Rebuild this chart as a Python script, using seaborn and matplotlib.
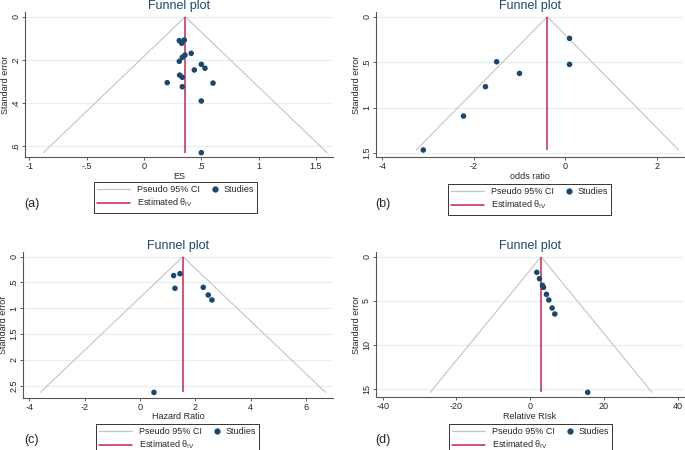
import numpy as np
import pandas as pd
import matplotlib
matplotlib.use("Agg")
import matplotlib.pyplot as plt
from matplotlib.lines import Line2D
from matplotlib.legend_handler import HandlerLine2D
import seaborn as sns

# (a) effect size
a_es = [0.308, 0.329, 0.351, 0.412, 0.357, 0.334, 0.308, 0.500, 0.532,
        0.439, 0.311, 0.334, 0.203, 0.602, 0.334, 0.500, 0.500]
a_se = [0.111, 0.123, 0.108, 0.170, 0.178, 0.188, 0.207, 0.221, 0.239,
        0.247, 0.271, 0.281, 0.306, 0.308, 0.325, 0.391, 0.631]
a_theta = 0.36

# (b) odds ratio
b_or = [0.095, -1.50, 0.095, -1.00, -1.745, -2.225, -3.105]
b_se = [0.238, 0.495, 0.524, 0.623, 0.769, 1.092, 1.465]
b_theta = -0.39

# (c) hazard ratio
c_hr = [1.446, 1.217, 1.265, 2.289, 2.470, 2.602, 0.506]
c_se = [0.330, 0.368, 0.614, 0.595, 0.743, 0.840, 2.631]
c_theta = 1.554

# (d) relative risk
d_rr = [1.80, 2.52, 3.33, 3.60, 4.41, 5.05, 5.95, 6.67, 15.59]
d_se = [1.77, 2.49, 3.24, 3.47, 4.26, 4.90, 5.80, 6.48, 15.34]
d_theta = 2.97

NAVY = "#1a476f"
RED = "#c8274a"
GREY = "#c4c4c4"
GRID = "#e6f0f2"

sns.set_style("ticks")
plt.rcParams["font.family"] = ["Liberation Sans", "DejaVu Sans"]
plt.rcParams["mathtext.fontset"] = "custom"
plt.rcParams["mathtext.rm"] = "Liberation Sans"

W, H = 685, 450
fig = plt.figure(figsize=(6.85, 4.5), dpi=100)


class MarkerRight(HandlerLine2D):
    # put the study marker at the right end of its handle, like Stata does
    def get_xdata(self, legend, xdescent, ydescent, width, height, fontsize):
        x = -xdescent + width - 1
        return [x, x], [x]


def fmt(v):
    s = f"{v:g}"
    if s.startswith("0.") and s != "0":
        s = s[1:]
    if s.startswith("-0."):
        s = "-" + s[2:]
    return s


def funnel(rect, x, se, theta, xlabel, xticks, yticks, xlim, ylim, tag, tagpos, legpos):
    l, t, r, b = rect
    ax = fig.add_axes([l / W, 1 - b / H, (r - l) / W, (b - t) / H])
    df = pd.DataFrame({"x": x, "se": se})
    m = max(se)
    tri = pd.DataFrame({"x": [theta - 1.96 * m, theta, theta + 1.96 * m],
                        "se": [m, 0, m]})
    for yt in yticks:
        ax.axhline(yt, color=GRID, lw=0.9, zorder=0)
    sns.lineplot(data=tri, x="x", y="se", sort=False, estimator=None,
                 color=GREY, lw=0.8, ax=ax)
    ax.vlines(theta, 0, m, color=RED, lw=1.1)
    sns.scatterplot(data=df, x="x", y="se", color=NAVY, s=16,
                    edgecolor="none", ax=ax, zorder=3)
    ax.set_xlim(xlim)
    ax.set_ylim(ylim)
    ax.set_xticks(xticks)
    ax.set_xticklabels([fmt(v) for v in xticks])
    ax.set_yticks(yticks)
    ax.set_yticklabels([fmt(v) for v in yticks], rotation=90, va="center")
    ax.tick_params(axis="both", labelsize=6.5, length=2.5, width=0.6,
                   pad=1, color="#444444")
    ax.set_xlabel(xlabel, fontsize=6.5, labelpad=0.5)
    ax.set_ylabel("Standard error", fontsize=6.5, labelpad=1)
    ax.set_title("Funnel plot", fontsize=9, color=NAVY, pad=2)
    for sp in ["top", "right"]:
        ax.spines[sp].set_visible(False)
    for sp in ["left", "bottom"]:
        ax.spines[sp].set_color("#555555")
        ax.spines[sp].set_linewidth(0.8)
    studies = Line2D([], [], color=NAVY, marker="o", ls="none", ms=3.5)
    handles = [Line2D([], [], color=GREY, lw=0.9),
               Line2D([], [], color=RED, lw=1.1),
               studies]
    labels = ["Pseudo 95% CI", r"Estimated θ$_{\mathrm{IV}}$", "Studies"]
    ax.legend(handles, labels, ncol=2, loc="upper left",
              bbox_to_anchor=(legpos[0] / W, 1 - legpos[1] / H),
              bbox_transform=fig.transFigure, frameon=True, fancybox=False,
              edgecolor="black", fontsize=6.5, handlelength=3.6,
              handletextpad=0.8, columnspacing=-1.8, borderpad=0.35,
              labelspacing=0.3, borderaxespad=0,
              handler_map={studies: MarkerRight()})
    ax.get_legend().get_frame().set_linewidth(0.7)
    fig.text(tagpos[0] / W, 1 - tagpos[1] / H, tag, fontsize=9,
             ha="center", va="center")
    return ax


funnel((25, 12, 333, 157), a_es, a_se, a_theta, "ES",
       [-1, -0.5, 0, 0.5, 1, 1.5], [0, 0.2, 0.4, 0.6],
       (-1.037, 1.648), (0.651, -0.022), "(a)", (32, 204), (94, 182))
funnel((376, 12, 684, 157), b_or, b_se, b_theta, "odds ratio",
       [-4, -2, 0, 2], [0, 0.5, 1, 1.5],
       (-4.14, 2.60), (1.542, -0.052), "(b)", (383, 204), (448, 184))
funnel((23, 252, 333, 397.7), c_hr, c_se, c_theta, "Hazard Ratio",
       [-4, -2, 0, 2, 4, 6], [0, 0.5, 1, 1.5, 2, 2.5],
       (-4.23, 6.98), (2.734, -0.09), "(c)", (32, 440), (96, 424))
funnel((376, 252, 684, 397.3), d_rr, d_se, d_theta, "Relative RIsk",
       [-40, -20, 0, 20, 40], [0, 5, 10, 15],
       (-41.8, 41.7), (15.9, -0.53), "(d)", (383, 440), (449, 424))

fig.savefig("out.png", dpi=100)
